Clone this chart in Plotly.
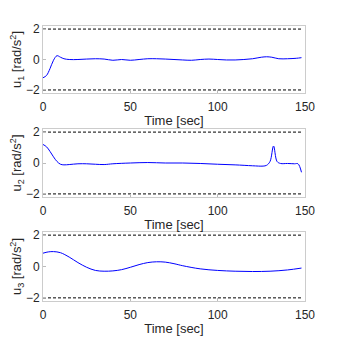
import plotly.graph_objects as go
from plotly.subplots import make_subplots

# time samples and control inputs
t1 = [0, 2, 4, 6, 8, 10, 12, 15, 20, 25, 30, 35, 40, 45, 50, 55, 60, 65, 70, 75, 80, 85, 90, 95,
      100, 105, 110, 115, 120, 125, 128, 131, 135, 140, 145, 148]
u1 = [-1.2, -1.05, -0.6, -0.05, 0.25, 0.15, 0.05, 0.0, 0.0, 0.03, 0.05, 0.03, -0.05, 0.0, -0.05,
      0.0, 0.05, 0.05, 0.03, 0.0, -0.03, -0.05, 0.0, 0.03, 0.0, -0.03, -0.03, 0.0, 0.05, 0.15,
      0.18, 0.15, 0.05, 0.05, 0.08, 0.12]

t2 = [0, 2, 4, 6, 8, 10, 12, 15, 20, 25, 30, 35, 40, 50, 60, 70, 80, 90, 100, 110, 120, 126, 128,
      130, 132, 134, 136, 140, 144, 146, 148]
u2 = [1.2, 1.05, 0.75, 0.4, 0.1, -0.08, -0.12, -0.1, -0.05, -0.05, -0.08, -0.1, -0.05, 0.0, 0.03,
      0.0, 0.0, -0.03, -0.08, -0.12, -0.18, -0.2, -0.15, 0.1, 1.1, 0.1, -0.03, -0.03, -0.05, -0.05,
      -0.6]

t3 = [0, 3, 6, 10, 15, 20, 25, 30, 35, 40, 45, 50, 55, 60, 65, 70, 75, 80, 90, 100, 110, 120,
      130, 140, 148]
u3 = [0.85, 0.93, 0.95, 0.88, 0.6, 0.25, -0.05, -0.25, -0.3, -0.28, -0.2, -0.05, 0.12, 0.25,
      0.3, 0.28, 0.18, 0.05, -0.15, -0.25, -0.3, -0.32, -0.3, -0.22, -0.1]

limit = 2
x_ticks = [0, 50, 100, 150]
y_ticks = [-2, 0, 2]
labels = ["u<sub>1</sub> [rad/s<sup>2</sup>]", "u<sub>2</sub> [rad/s<sup>2</sup>]",
          "u<sub>3</sub> [rad/s<sup>2</sup>]"]

fig = make_subplots(rows=3, cols=1)
series = [(t1, u1), (t2, u2), (t3, u3)]
# page body adds 8px on the left and top, figure is sized to fit the rest
domains = [[0.7485, 0.9467], [0.4408, 0.6420], [0.1331, 0.3373]]

for i, (t, u) in enumerate(series):
    r = i + 1
    fig.add_trace(go.Scatter(x=t, y=u, mode="lines", line=dict(color="#0000ff", width=1),
                             line_shape="spline", showlegend=False), row=r, col=1)
    for v in (limit, -limit):
        fig.add_trace(go.Scatter(x=[0, 148], y=[v, v], mode="lines",
                                 line=dict(color="black", width=1, dash="3px,2px"),
                                 showlegend=False), row=r, col=1)
    fig.update_xaxes(range=[0, 150], tickvals=x_ticks, ticks="inside", ticklen=3,
                     tickcolor="#bbbbbb", showline=True, linecolor="#cccccc", mirror=True,
                     showgrid=False, zeroline=False, domain=[0.1064, 0.9027], automargin=False,
                     ticklabelstandoff=3,
                     title=dict(text="Time [sec]", standoff=2, font=dict(size=13)),
                     tickfont=dict(size=12), row=r, col=1)
    fig.update_yaxes(range=[-2.2, 2.2], tickvals=y_ticks, ticks="inside", ticklen=3,
                     tickcolor="#bbbbbb", showline=True, linecolor="#cccccc", mirror=True,
                     showgrid=False, zeroline=False, domain=domains[i], automargin=False,
                     title=dict(text=labels[i], standoff=0, font=dict(size=13)),
                     tickfont=dict(size=12), row=r, col=1)

fig.update_layout(width=329, height=338, margin=dict(l=0, r=0, t=0, b=0),
                  plot_bgcolor="white", paper_bgcolor="white",
                  font=dict(family="Liberation Sans, Arial", color="#262626"))

fig.write_html("out.html")
